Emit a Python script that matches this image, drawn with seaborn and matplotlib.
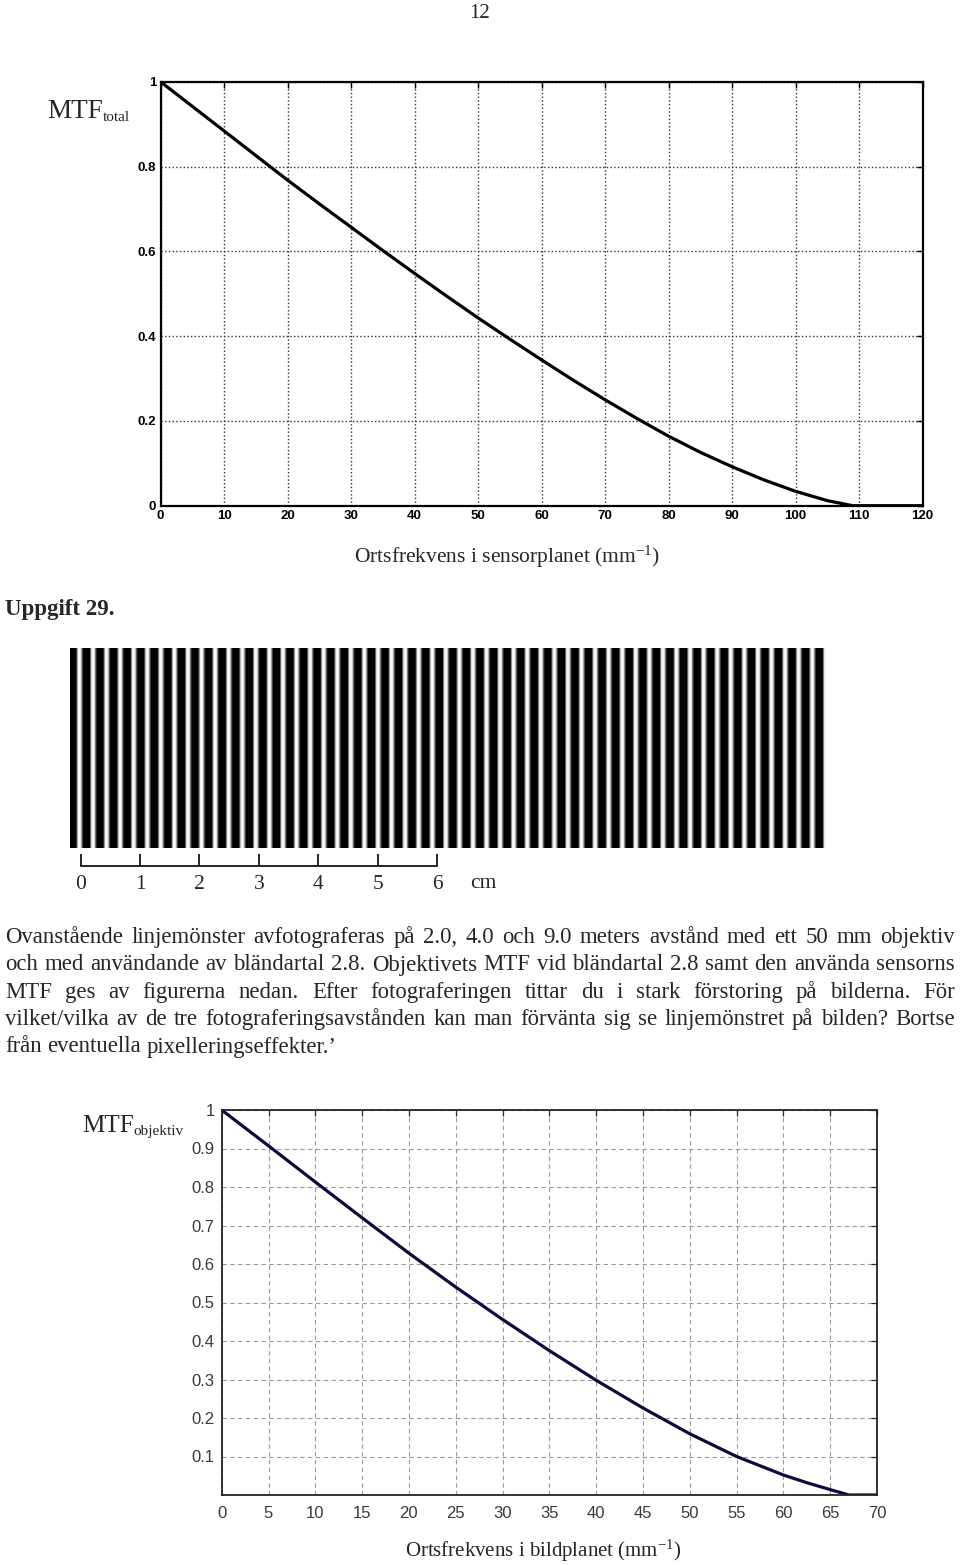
import numpy as np
import matplotlib
matplotlib.use('Agg')
import matplotlib.pyplot as plt
import seaborn as sns

# ---------------- data ----------------
# MTF total, spatial frequency in the sensor plane (mm^-1)
total_freq = [0, 5, 10, 15, 20, 25, 30, 35, 40, 45, 50, 55, 60, 65, 70,
              75, 80, 85, 90, 95, 100, 105, 109, 115, 120]
total_mtf = [1.0, 0.942, 0.884, 0.826, 0.768, 0.712, 0.657, 0.602, 0.548,
             0.495, 0.443, 0.393, 0.344, 0.296, 0.250, 0.206, 0.164, 0.126,
             0.092, 0.061, 0.034, 0.012, 0.0, 0.0, 0.0]
total_xticks = list(range(0, 121, 10))
total_yticks = [0, 0.2, 0.4, 0.6, 0.8, 1]
total_yticklabels = ['0', '0.2', '0.4', '0.6', '0.8', '1']

# MTF objektiv, spatial frequency in the image plane (mm^-1)
obj_freq = [0, 5, 10, 15, 20, 25, 30, 35, 40, 45, 50, 55, 60, 62.5, 65, 67, 70]
obj_mtf = [1.0, 0.907, 0.813, 0.720, 0.628, 0.540, 0.456, 0.375, 0.298,
           0.226, 0.159, 0.100, 0.052, 0.032, 0.014, 0.0, 0.0]
obj_xticks = list(range(0, 71, 5))
obj_yticks = [0.1, 0.2, 0.3, 0.4, 0.5, 0.6, 0.7, 0.8, 0.9, 1.0]
obj_yticklabels = ['0.1', '0.2', '0.3', '0.4', '0.5', '0.6', '0.7', '0.8', '0.9', '1']

# line pattern: grey level across one period (phase 0..1), and period in px
stripe_phase = [0.0, 0.44, 0.52, 0.60, 0.70, 0.80, 0.90, 1.0]
stripe_level = [0.0, 0.0, 0.45, 0.92, 1.0, 0.88, 0.35, 0.0]
stripe_period_px = 13.57
scale_cm = [0, 1, 2, 3, 4, 5, 6]

paragraph = [
    'Ovanstående linjemönster avfotograferas på 2.0, 4.0 och 9.0 meters avstånd med ett 50 mm objektiv',
    'och med användande av bländartal 2.8. Objektivets MTF vid bländartal 2.8 samt den använda sensorns',
    'MTF ges av figurerna nedan. Efter fotograferingen tittar du i stark förstoring på bilderna. För',
    'vilket/vilka av de tre fotograferingsavstånden kan man förvänta sig se linjemönstret på bilden? Bortse',
    'från eventuella pixelleringseffekter.\u2019',
]

# ---------------- style ----------------
sns.set_theme(style='white')
SERIF = 'Liberation Serif'
SANS = 'Liberation Sans'
plt.rcParams['font.family'] = [SERIF, 'DejaVu Serif']
plt.rcParams['mathtext.fontset'] = 'custom'
plt.rcParams['mathtext.rm'] = SERIF
plt.rcParams['mathtext.it'] = SERIF + ':italic'
plt.rcParams['mathtext.bf'] = SERIF + ':bold'

W, H = 960, 1565
fig = plt.figure(figsize=(W / 100, H / 100), dpi=100)
fig.patch.set_facecolor('white')
renderer = fig.canvas.get_renderer()


def box(x0, y0, x1, y1):
    # pixel box (top-left origin) -> figure fraction rect
    return [x0 / W, 1 - y1 / H, (x1 - x0) / W, (y1 - y0) / H]


def ftext(x, y, s, **kw):
    return fig.text(x / W, 1 - y / H, s, **kw)


def width_of(s, size, **kw):
    t = ftext(0, 0, s, fontsize=size, **kw)
    w = t.get_window_extent(renderer).width
    t.remove()
    return w


def mtf_label(x, baseline, sub, big=19, small=11):
    ftext(x, baseline, 'MTF', fontsize=big, ha='left', va='baseline')
    x2 = x + width_of('MTF', big)
    ftext(x2, baseline + 3, sub, fontsize=small, ha='left', va='baseline')


# page number
ftext(480, 13, '12', fontsize=15, ha='center', va='center')

# ---------------- MTF total ----------------
ax1 = fig.add_axes(box(160.5, 81.7, 922.5, 505.7))
sns.lineplot(x=total_freq, y=total_mtf, ax=ax1, color='black', linewidth=2.3,
             estimator=None, sort=False)
ax1.set_xlim(0, 120)
ax1.set_ylim(0, 1)
ax1.set_xticks(total_xticks)
ax1.set_xticklabels([str(t) for t in total_xticks])
ax1.set_yticks(total_yticks)
ax1.set_yticklabels(total_yticklabels)
ax1.grid(True, linestyle=':', color='#333333', linewidth=1.0)
ax1.tick_params(direction='in', length=4, width=1, top=True, right=True,
                labelsize=9.5, pad=3, colors='black')
for lbl in ax1.get_xticklabels() + ax1.get_yticklabels():
    lbl.set_fontweight('bold')
    lbl.set_family(SANS)
for s in ax1.spines.values():
    s.set_color('black')
    s.set_linewidth(1.6)
    s.set_visible(True)

mtf_label(47, 118, 'total', big=19.5, small=11)
ftext(507, 557, r'Ortsfrekvens i sensorplanet (mm$^{\mathrm{-1}}$)',
      fontsize=15.5, ha='center', va='center')

ftext(5, 610, 'Uppgift 29.', fontsize=16.5, fontweight='bold', ha='left', va='center')

# ---------------- line pattern ----------------
x_pat0, x_pat1 = 70, 826
n_cols = x_pat1 - x_pat0
phase = (np.arange(n_cols) + 0.5) / stripe_period_px % 1.0
pattern = np.interp(phase, stripe_phase, stripe_level)[None, :]
ax2 = fig.add_axes(box(x_pat0, 648, x_pat1, 848))
sns.heatmap(pattern, ax=ax2, cmap='gray', vmin=0, vmax=1, cbar=False,
            xticklabels=False, yticklabels=False)
ax2.set_xlabel('')
ax2.set_ylabel('')

# scale bar in cm
ax3 = fig.add_axes(box(80.7, 855, 437, 865.5))
ax3.set_xlim(0, 6)
ax3.set_ylim(0, 1)
ax3.patch.set_alpha(0)
for k in ['top', 'left', 'right']:
    ax3.spines[k].set_visible(False)
ax3.spines['bottom'].set_color('black')
ax3.spines['bottom'].set_linewidth(1.2)
ax3.set_yticks([])
ax3.set_xticks(scale_cm)
ax3.set_xticklabels([str(c) for c in scale_cm])
ax3.tick_params(axis='x', direction='in', length=9, width=1.2, color='black',
                labelsize=15.5, pad=7, bottom=True)
ftext(483, 883, 'cm', fontsize=15.5, ha='center', va='center')

# ---------------- justified paragraph ----------------
fs = 17.5
x_left, x_right = 5, 955
baselines = [943, 970.5, 998, 1025, 1052.5]

space = width_of('x x', fs) - width_of('xx', fs)
natural = max(width_of(l, fs) for l in paragraph[:-1])
if natural > (x_right - x_left):
    fs = fs * (x_right - x_left) / natural * 0.99
    space = width_of('x x', fs) - width_of('xx', fs)

for i, (line, yb) in enumerate(zip(paragraph, baselines)):
    words = line.split(' ')
    texts = [ftext(0, yb, w, fontsize=fs, ha='left', va='baseline') for w in words]
    widths = [t.get_window_extent(renderer).width for t in texts]
    if i == len(paragraph) - 1:
        gap = space
    else:
        gap = (x_right - x_left - sum(widths)) / (len(words) - 1)
    x = x_left
    for t, w in zip(texts, widths):
        t.set_x(x / W)
        x += w + gap

# ---------------- MTF objektiv ----------------
ax4 = fig.add_axes(box(221.7, 1110, 877, 1495))
sns.lineplot(x=obj_freq, y=obj_mtf, ax=ax4, color='#0c0c3c', linewidth=2.3,
             estimator=None, sort=False)
ax4.set_xlim(0, 70)
ax4.set_ylim(0, 1)
ax4.set_xticks(obj_xticks)
ax4.set_xticklabels([str(t) for t in obj_xticks])
ax4.set_yticks(obj_yticks)
ax4.set_yticklabels(obj_yticklabels)
ax4.grid(True, linestyle=(0, (4, 3)), color='#9a9a9a', linewidth=0.8)
ax4.tick_params(direction='in', length=4, width=0.9, top=True, right=True,
                labelsize=12, colors='#2a2a2a', labelcolor='#3a3a3a')
ax4.tick_params(axis='x', pad=8)
ax4.tick_params(axis='y', pad=5)
for lbl in ax4.get_xticklabels() + ax4.get_yticklabels():
    lbl.set_family(SANS)
for s in ax4.spines.values():
    s.set_color('#222222')
    s.set_linewidth(1.3)
    s.set_visible(True)

mtf_label(82, 1132, 'objektiv', big=18, small=11)
ftext(543, 1551, r'Ortsfrekvens i bildplanet (mm$^{\mathrm{-1}}$)',
      fontsize=15, ha='center', va='center')

fig.savefig('out.png', dpi=100, facecolor='white')
